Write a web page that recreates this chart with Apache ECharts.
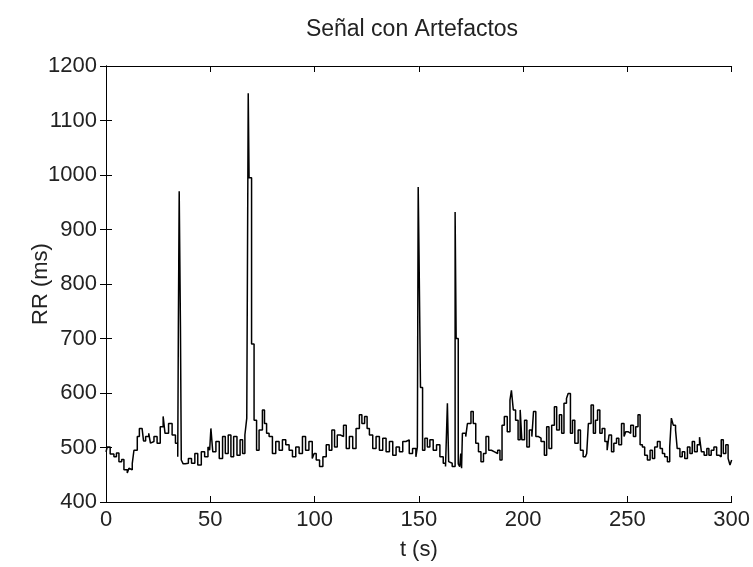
<!DOCTYPE html>
<html>
<head>
<meta charset="utf-8">
<script src="https://cdn.jsdelivr.net/npm/echarts@6/dist/echarts.min.js"></script>
<style>
html,body{margin:0;padding:0;background:#fff;}
#chart{width:753px;height:567px;}
</style>
</head>
<body>
<div id="chart"></div>
<script>
const titleText = 'Señal con Artefactos';
const xLabel = 't (s)';
const yLabel = 'RR (ms)';
const xTicks = [0, 50, 100, 150, 200, 250, 300];
const yTicks = [400, 500, 600, 700, 800, 900, 1000, 1100, 1200];

const tValues = [0,0.6,2,3.8,5,6.2,7.5,8.6,10.2,11,11.8,12.6,13.4,15,16,17.3,18,19,20.5,21.3,22,23,24.5,26,27.4,28.3,30,31.7,33.3,34.4,34.7,35.1,35.7,36.1,37,38,39.5,41,42.6,44,45.7,47.3,48.9,49.7,50.3,51.2,52.7,54.3,55.9,57.2,58.6,59.9,61.2,62.8,64.3,65.5,66.6,67.5,68.2,68.6,69.4,69.8,70.4,71,72.2,73.4,75,76,77,78.2,79.8,81.4,83,84.6,86.2,87.8,89.4,91,92.6,94.2,95.7,97.3,98.9,99.8,100.8,102.4,104,105.6,107,108.3,109.6,110.9,112.4,113.9,115.2,116.7,118.3,119.9,121.5,122.7,124,125.2,126.3,127.9,129.5,131.1,132.7,134.3,135.9,137.5,139.1,140.7,142.3,143.8,145.4,147,148.6,149.3,149.7,150.1,150.5,150.8,151.4,151.8,152.9,154.1,155.3,156.9,158.5,160.1,161.7,162.8,163.7,164.3,165.2,166,166.6,167.4,167.9,168.4,168.9,169.6,170.1,170.5,170.9,172.5,173.3,175,176.1,177.3,178.6,179.8,181,182.2,183.5,184.8,186.3,187.8,188.9,189.9,191,192.4,193.7,194.4,195.3,196.4,197.6,198.6,199.4,200.7,201.8,203,204.2,205,206.1,207.4,208.6,210.2,211.3,212.4,213.7,215,216.1,217.4,218.5,219.6,220.8,221.6,222.7,223.7,224.8,226.4,227.5,228.8,229.9,230.5,231.3,232.6,233.7,234.7,235.7,236.8,237.9,239.2,240.3,241.2,242.4,243.5,244.8,245.9,247.2,248.4,249.2,250.3,251.6,252.9,254,255.1,256.1,257.2,258.3,259.6,260.9,262,263.1,264.4,265.7,266.8,267.9,269.2,270.3,271.1,272,273.1,273.9,275.2,276.3,277.5,278.8,280,281.1,282.2,283.5,284.6,285.5,286.8,288.1,289.1,290.2,291.5,292.8,293.9,295,296,297.2,298.3,299.2,300];
const rrValues = [492,501,488,483,490,474,478,459,453,462,459,471,495,520,535,532,512,520,526,508,511,520,508,538,557,526,544,523,508,483,720,970,720,477,470,471,480,471,489,468,492,483,501,495,535,492,511,480,520,489,523,483,520,486,514,489,523,554,1150,995,995,690,690,550,495,532,569,544,526,520,489,511,495,514,505,495,483,501,489,520,495,511,480,489,477,465,483,505,495,532,501,523,520,541,498,520,498,535,560,544,557,535,523,498,520,495,517,492,511,486,501,492,511,514,489,498,483,501,978,853,853,610,610,495,517,501,514,495,505,483,471,465,581,474,471,465,465,932,700,700,470,465,489,462,526,520,544,566,544,508,492,474,489,520,495,492,489,495,477,541,557,529,587,605,569,550,514,569,514,550,501,532,520,566,520,517,511,486,538,498,541,575,532,560,526,581,590,599,526,550,508,532,495,483,480,489,544,578,526,550,569,526,535,511,495,523,492,508,517,505,544,520,529,526,541,520,538,560,505,501,486,477,495,480,501,511,498,489,483,474,501,554,541,532,498,483,492,480,501,489,511,492,505,519,492,486,498,486,495,501,486,483,514,489,505,480,468,477];

const seriesData = tValues.map((t, i) => [t, rrValues[i]]);
const FONT = '"Liberation Sans", Arial, sans-serif';

const chart = echarts.init(document.getElementById('chart'), null, {renderer: 'canvas'});
const axisLine = {show: true, lineStyle: {color: '#000', width: 1}};
const tickIn = {show: true, inside: true, length: 6, lineStyle: {color: '#000', width: 1}};
const plain = v => String(v);

chart.setOption({
  animation: false,
  backgroundColor: '#fff',
  title: {
    text: titleText, left: 407, top: 13, textAlign: 'center',
    textStyle: {fontFamily: FONT, fontSize: 23, fontWeight: 'normal', color: '#222'}
  },
  grid: {left: 106, right: 19, top: 66, bottom: 65, containLabel: false},
  xAxis: [{
    type: 'value', min: xTicks[0], max: xTicks[xTicks.length - 1], interval: 50,
    position: 'bottom',
    axisLine: axisLine, axisTick: tickIn, splitLine: {show: false},
    axisLabel: {color: '#222', fontFamily: FONT, fontSize: 22, margin: 7, formatter: plain},
    name: xLabel, nameLocation: 'middle', nameGap: 37,
    nameTextStyle: {color: '#222', fontFamily: FONT, fontSize: 22}
  }, {
    type: 'value', min: xTicks[0], max: xTicks[xTicks.length - 1], interval: 50,
    position: 'top',
    axisLine: axisLine, axisTick: tickIn, splitLine: {show: false},
    axisLabel: {show: false}
  }],
  yAxis: [{
    type: 'value', min: yTicks[0], max: yTicks[yTicks.length - 1], interval: 100,
    position: 'left',
    axisLine: axisLine, axisTick: tickIn, splitLine: {show: false},
    axisLabel: {color: '#222', fontFamily: FONT, fontSize: 22, margin: 9, formatter: plain},
    name: yLabel, nameLocation: 'middle', nameGap: 54, nameRotate: 90, nameMoveOverlap: false,
    nameTextStyle: {color: '#222', fontFamily: FONT, fontSize: 22}
  }, {
    type: 'value', min: yTicks[0], max: yTicks[yTicks.length - 1], interval: 100,
    position: 'right',
    axisLine: axisLine, axisTick: tickIn, splitLine: {show: false},
    axisLabel: {show: false}
  }],
  series: [{
    type: 'line',
    data: seriesData,
    step: 'end',
    showSymbol: false,
    symbol: 'none',
    lineStyle: {color: '#000', width: 1.5},
    xAxisIndex: 0, yAxisIndex: 0
  }]
});
</script>
</body>
</html>
